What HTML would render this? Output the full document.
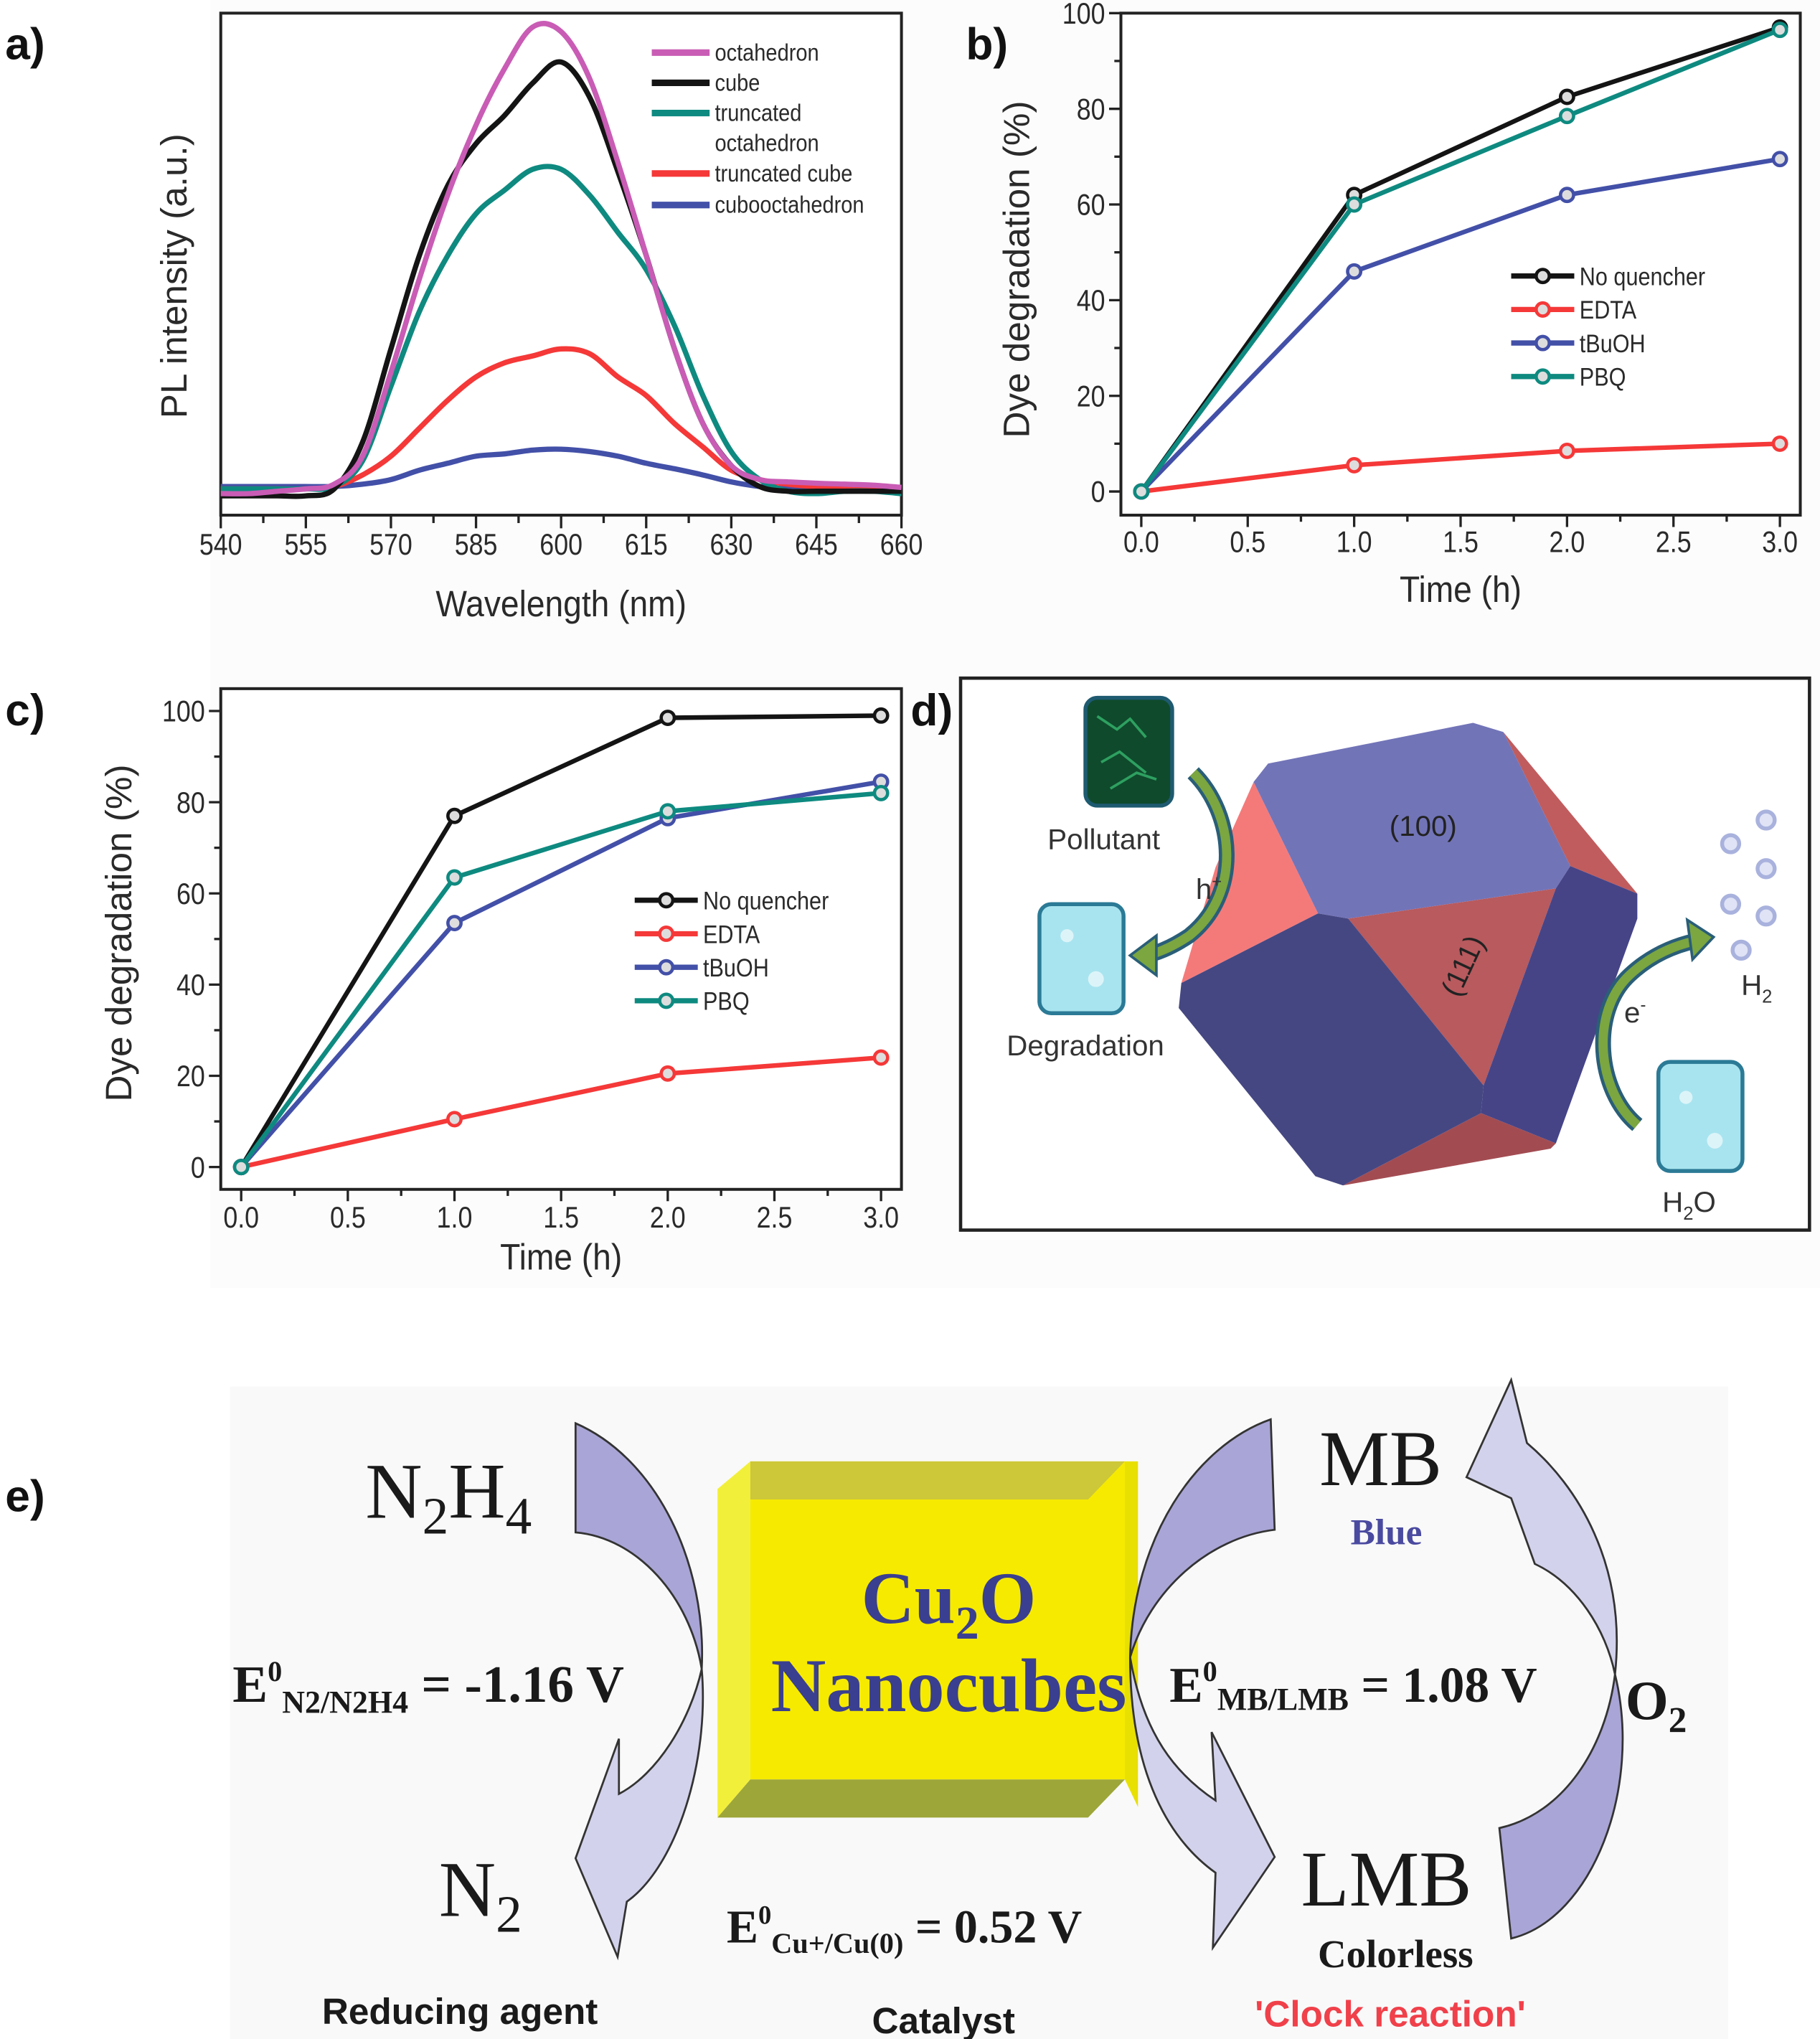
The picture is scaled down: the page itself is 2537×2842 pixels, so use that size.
<!DOCTYPE html>
<html><head><meta charset="utf-8"><style>
html,body{margin:0;padding:0;background:#fff;}
svg{display:block;}
text{font-family:"Liberation Sans Narrow","Liberation Sans",sans-serif;}
.serif{font-family:"Liberation Serif",serif;}
.sans{font-family:"Liberation Sans",sans-serif;}
</style></head><body>
<svg id="fig" width="2537" height="2842" viewBox="0 0 1385 1551.5" preserveAspectRatio="none" xmlns="http://www.w3.org/2000/svg">
<rect x="0" y="0" width="1385" height="1552" fill="#ffffff"/>
<rect x="160" y="0" width="1225" height="980" fill="#fcfcfc"/>
<rect x="175" y="1055" width="1140" height="497" fill="#f9f9f9"/>

<g id="panelA"></g>
<g id="panelB"></g>
<g id="panelC"></g>

<g class="sans" font-weight="bold" font-size="34" fill="#111">
<text x="4" y="45" class="sans">a)</text>
<text x="735" y="45" class="sans">b)</text>
<text x="4" y="552" class="sans">c)</text>
<text x="693" y="552" class="sans">d)</text>
<text x="4" y="1150" class="sans">e)</text>
</g>

<g>
<rect x="731" y="516" width="646" height="420" fill="#ffffff" stroke="#222" stroke-width="2.5"/>
<g>
<polygon points="954,595 1003,695 899,748 925,660" fill="#f47a7a"/>
<polygon points="1144,557 1246,680 1195,659" fill="#c05c5e"/>
<polygon points="954,595 965,581 1121,550 1144,557 1195,659 1184,676 1026,699 1003,695" fill="#7274b8"/>
<polygon points="1026,699 1184,676 1129,826" fill="#b85a5e"/>
<polygon points="1127,847 1184,870 1180,874 1022,902" fill="#a24c52"/>
<polygon points="899,748 1003,695 1026,699 1129,826 1127,847 1022,902 1001,895 897,767" fill="#454782"/>
<polygon points="1184,676 1195,659 1246,680 1246,699 1184,870 1127,847 1129,826" fill="#464487"/>
<text x="1083" y="636" text-anchor="middle" font-size="22" fill="#222" class="sans">(100)</text>
<text x="1120" y="738" text-anchor="middle" font-size="22" fill="#222" class="sans" transform="rotate(-65 1120 738)">(111)</text>
</g>
<rect x="826" y="531" width="66" height="82" rx="9" fill="#0f4a2c" stroke="#1e5a70" stroke-width="3"/>
<path d="M835,545 l15,10 l10,-8 l12,14 M838,580 l14,-8 l20,16 M845,600 l20,-12 l15,5" stroke="#2ea060" stroke-width="2" fill="none"/>
<rect x="791" y="688" width="64" height="83" rx="9" fill="#a8e4ef" stroke="#2b7a96" stroke-width="3"/>
<rect x="1262" y="808" width="64" height="83" rx="9" fill="#a8e4ef" stroke="#2b7a96" stroke-width="3"/>
<g fill="#ffffff" opacity="0.6"><circle cx="812" cy="712" r="5"/><circle cx="834" cy="745" r="6"/><circle cx="1283" cy="835" r="5"/><circle cx="1305" cy="868" r="6"/></g>
<path d="M908,588 C940,620 945,680 905,712 C890,722 878,726 872,727" stroke="#2a5e78" stroke-width="12" fill="none"/>
<path d="M908,588 C940,620 945,680 905,712 C890,722 878,726 872,727" stroke="#7ba640" stroke-width="7" fill="none"/>
<polygon points="860,727 880,712 880,742" fill="#7ba640" stroke="#2a5e78" stroke-width="2"/>
<path d="M1246,856 C1215,830 1210,770 1240,742 C1255,728 1272,720 1290,716" stroke="#2a5e78" stroke-width="12" fill="none"/>
<path d="M1246,856 C1215,830 1210,770 1240,742 C1255,728 1272,720 1290,716" stroke="#7ba640" stroke-width="7" fill="none"/>
<polygon points="1304,713 1284,700 1288,730" fill="#7ba640" stroke="#2a5e78" stroke-width="2"/>
<g fill="#dfe3f5" stroke="#a9b2dd" stroke-width="3">
<circle cx="1344" cy="624" r="6.5"/><circle cx="1317" cy="642" r="6.5"/><circle cx="1344" cy="661" r="6.5"/><circle cx="1317" cy="688" r="6.5"/><circle cx="1344" cy="697" r="6.5"/><circle cx="1325" cy="723" r="6.5"/>
</g>
<g class="sans" font-size="22" fill="#333">
<text x="840" y="646" text-anchor="middle" class="sans">Pollutant</text>
<text x="826" y="803" text-anchor="middle" class="sans">Degradation</text>
<text x="910" y="684" class="sans">h<tspan font-size="13" dy="-9">+</tspan></text>
<text x="1236" y="778" class="sans">e<tspan font-size="13" dy="-9">-</tspan></text>
<text x="1325" y="757" class="sans">H<tspan font-size="14" dy="6">2</tspan></text>
<text x="1265" y="922" class="sans">H<tspan font-size="14" dy="6">2</tspan><tspan dy="-6">O</tspan></text>
</g>
</g>

<g>
<g>
<polygon points="546,1133 571,1112 571,1354 546,1383" fill="#f2ef3a"/>
<rect x="571" y="1112" width="285" height="242" fill="#f6ea00"/>
<polygon points="571,1112 856,1112 828,1141 571,1141" fill="#cdc73a"/>
<polygon points="571,1354 856,1354 828,1383 546,1383" fill="#9da638"/>
<polygon points="856,1112 866,1112 866,1375 856,1354" fill="#e8e000"/>
</g>
<g stroke="#333" stroke-width="1.5">
<path d="M438,1083 C500,1110 538,1190 534,1270 C525,1215 485,1170 438,1166 Z" fill="#a9a5d6"/>
<path d="M534,1270 C540,1340 515,1420 477,1447 L470,1489 L438,1414 L471,1323 L471,1365 C500,1350 525,1310 534,1270 Z" fill="#d3d2ec"/>
<path d="M967,1080 L970,1164 C920,1170 875,1210 860,1261 C862,1170 910,1100 967,1080 Z" fill="#a9a5d6"/>
<path d="M860,1261 C860,1350 890,1400 925,1425 L923,1482 L970,1413 L922,1318 L925,1370 C895,1350 870,1320 860,1261 Z" fill="#d3d2ec"/>
<path d="M1229,1274 C1238,1190 1200,1130 1162,1098 L1150,1050 L1116,1124 L1150,1140 L1168,1190 C1200,1205 1222,1240 1229,1274 Z" fill="#d3d2ec"/>
<path d="M1229,1274 C1250,1360 1212,1460 1150,1475 L1141,1391 C1190,1380 1222,1330 1229,1274 Z" fill="#a9a5d6"/>
</g>
<g class="serif" fill="#1a1a1a">
<text x="278" y="1155" font-size="60" class="serif">N<tspan font-size="40" dy="12">2</tspan><tspan dy="-12">H</tspan><tspan font-size="40" dy="12">4</tspan></text>
<text x="334" y="1458" font-size="60" class="serif">N<tspan font-size="40" dy="12">2</tspan></text>
<text x="177" y="1295" font-size="40" font-weight="bold" class="serif">E<tspan font-size="22" dy="-16">0</tspan><tspan font-size="24" dy="24">N2/N2H4</tspan><tspan dy="-8"> = -1.16 V</tspan></text>
<text x="553" y="1478" font-size="36" font-weight="bold" class="serif">E<tspan font-size="20" dy="-14">0</tspan><tspan font-size="22" dy="22">Cu+/Cu(0)</tspan><tspan dy="-8"> = 0.52 V</tspan></text>
<text x="1004" y="1130" font-size="60" class="serif">MB</text>
<text x="1055" y="1175" font-size="28" font-weight="bold" fill="#4a4aa0" text-anchor="middle" class="serif">Blue</text>
<text x="890" y="1295" font-size="38" font-weight="bold" class="serif">E<tspan font-size="22" dy="-16">0</tspan><tspan font-size="24" dy="22">MB/LMB</tspan><tspan dy="-6"> = 1.08 V</tspan></text>
<text x="1237" y="1308" font-size="42" font-weight="bold" class="serif">O<tspan font-size="28" dy="10">2</tspan></text>
<text x="990" y="1450" font-size="60" class="serif">LMB</text>
<text x="1062" y="1497" font-size="30" font-weight="bold" text-anchor="middle" class="serif">Colorless</text>
<text x="722" y="1235" font-size="56" font-weight="bold" fill="#3a3f8f" text-anchor="middle" class="serif">Cu<tspan font-size="36" dy="12">2</tspan><tspan dy="-12">O</tspan></text>
<text x="722" y="1302" font-size="58" font-weight="bold" fill="#3a3f8f" text-anchor="middle" class="serif">Nanocubes</text>
</g>
<g class="sans" font-weight="bold" font-size="28" fill="#1a1a1a">
<text x="350" y="1540" text-anchor="middle" class="sans">Reducing agent</text>
<text x="718" y="1547" text-anchor="middle" class="sans">Catalyst</text>
<text x="1058" y="1542" text-anchor="middle" fill="#f0404a" class="sans">'Clock reaction'</text>
</g>
</g>
</svg>
<script>
const NS='http://www.w3.org/2000/svg';
// ---- Panel a data ----
const wavelengths=[540,545,550,555,560,565,570,575,580,585,590,595,600,605,610,615,620,625,630,635,640,645,650,655,660];
const octahedron=[-1,-1,-0.5,0,1,7,25,45,63,78,90,99,98,88,70,50,30,14,5,2,1.5,1.2,1,0.8,0.3];
const cube=[-1.5,-1.5,-1.5,-1.5,0,10,30,50,65,74,80,87,91.5,84,68,50,30,14,5,0.5,-0.5,-0.5,-0.5,-0.5,-0.5];
const truncOct=[0,0,0,0,0.5,6,22,38,50,59,64,68.5,68.5,63,55,47,35,20,8,2,-0.5,-1,-0.5,-0.5,-1];
const truncCube=[0,0,0,0,0.5,3,7,13,19,24,27,28.5,30,29,24,20,14,9,4,2,1,0.5,0.3,0,0];
const cubooct=[0.5,0.5,0.5,0.5,0.5,1,2,4,5.5,7,7.5,8.3,8.5,8,7,5.5,4.3,3,1.5,0.5,0,0,0,0,0];
const aTicks=['540','555','570','585','600','615','630','645','660'];
const aNames=['octahedron','cube','truncated','truncated cube','cubooctahedron'];
// ---- Panel b data ----
const times=[0,1,2,3];
const bNoQ=[0,62,82.5,97];
const bEDTA=[0,5.5,8.5,10];
const bTBuOH=[0,46,62,69.5];
const bPBQ=[0,60,78.5,96.5];
// ---- Panel c data ----
const cNoQ=[0,77,98.5,99];
const cEDTA=[0,10.5,20.5,24];
const cTBuOH=[0,53.5,76.5,84.5];
const cPBQ=[0,63.5,78,82];
const timeTicks=['0.0','0.5','1.0','1.5','2.0','2.5','3.0'];
const pctTicks=['0','20','40','60','80','100'];
const legendNames=['No quencher','EDTA','tBuOH','PBQ'];

function el(tag,attrs,parent){const e=document.createElementNS(NS,tag);for(const k in attrs)e.setAttribute(k,attrs[k]);parent.appendChild(e);return e;}
const C={black:'#141414',red:'#f53838',blue:'#4350a8',teal:'#0e8a80',mag:'#c95cb5'};

function frame(g,L,T,R,B){
  const r=el('rect',{x:L,y:T,width:R-L,height:B-T,fill:'#fff',stroke:'#222','stroke-width':2.2},g);
  
  
}
function text(g,x,y,s,size,anchor,name,sx){
  const t=el('text',{x:x,y:y,'font-size':size,'text-anchor':anchor||'middle',fill:'#2a2a2a'},g);
  t.textContent=s;
  if(sx){t.setAttribute('transform','translate('+x+' 0) scale('+sx+' 1) translate('+(-x)+' 0)');}
  
  
  return t;
}
function smoothPath(pts){
  let d='M'+pts[0][0].toFixed(1)+','+pts[0][1].toFixed(1);
  for(let i=0;i<pts.length-1;i++){
    const p0=pts[i-1]||pts[i],p1=pts[i],p2=pts[i+1],p3=pts[i+2]||p2;
    const c1=[p1[0]+(p2[0]-p0[0])/6,p1[1]+(p2[1]-p0[1])/6];
    const c2=[p2[0]-(p3[0]-p1[0])/6,p2[1]-(p3[1]-p1[1])/6];
    d+=' C'+c1[0].toFixed(1)+','+c1[1].toFixed(1)+' '+c2[0].toFixed(1)+','+c2[1].toFixed(1)+' '+p2[0].toFixed(1)+','+p2[1].toFixed(1);
  }
  return d;
}

// Panel A
(function(){
  const g=document.getElementById('panelA');
  const L=168,R=686,T=10,B=392;
  frame(g,L,T,R,B);
  const xs=v=>L+(v-540)/(660-540)*(R-L);
  const ys=v=>372-v*3.55;
  for(let v=540;v<=660;v+=7.5){
    const major=(v-540)%15===0;
    el('line',{x1:xs(v),y1:B,x2:xs(v),y2:B+(major?10:6),stroke:'#222','stroke-width':1.8},g);
  }
  aTicks.forEach(s=>text(g,xs(+s),422,s,23,'middle','x-tick-label',0.85));
  text(g,427,469,'Wavelength (nm)',28,'middle','x-axis-title',0.9);
  const yl=text(g,142,210,'PL intensity (a.u.)',28,'middle','y-axis-title');
  yl.setAttribute('transform','rotate(-90 142 210)');
  const series=[[cubooct,C.blue,'series-cubooctahedron'],[truncCube,C.red,'series-truncated-cube'],[truncOct,C.teal,'series-truncated-octahedron'],[cube,C.black,'series-cube'],[octahedron,C.mag,'series-octahedron']];
  series.forEach(s=>{
    const pts=s[0].map((v,i)=>[xs(wavelengths[i]),ys(v)]);
    const p=el('path',{d:smoothPath(pts),fill:'none',stroke:s[1],'stroke-width':4,'stroke-linejoin':'round'},g);
    
    
  });
  const lc=[C.mag,C.black,C.teal,C.red,C.blue];
  const ly=[40,63,86,132,156];
  aNames.forEach((n,i)=>{
    const ln=el('line',{x1:496,y1:ly[i],x2:540,y2:ly[i],stroke:lc[i],'stroke-width':5},g);
    
    
    text(g,544,ly[i]+6,n,18,'start','legend-entry',0.88);
  });
  text(g,544,115,'octahedron',18,'start','legend-entry',0.88);
})();

function degPanel(gid,L,T,R,B,y0,y100,tickY,titleY,ylx,yly,legX,legY,data){
  const g=document.getElementById(gid);
  frame(g,L,T,R,B);
  const x0=L+(R-L)*0.03, x3=R-(R-L)*0.03;
  const xs=v=>x0+v/3*(x3-x0);
  const ys=v=>y0+(y100-y0)*v/100;
  for(let v=0;v<=3.001;v+=0.25){
    const major=Math.abs(v*2-Math.round(v*2))<1e-6;
    el('line',{x1:xs(v),y1:B,x2:xs(v),y2:B+(major?9:5),stroke:'#222','stroke-width':1.8},g);
  }
  for(let v=0;v<=100;v+=10){
    const major=v%20===0;
    el('line',{x1:L,y1:ys(v),x2:L-(major?9:5),y2:ys(v),stroke:'#222','stroke-width':1.8},g);
  }
  timeTicks.forEach(s=>text(g,xs(+s),tickY,s,23,'middle','x-tick-label',0.85));
  pctTicks.forEach(s=>text(g,L-12,ys(+s)+8,s,23,'end','y-tick-label',0.85));
  text(g,(L+R)/2,titleY,'Time (h)',28,'middle','x-axis-title',0.9);
  const yl=text(g,ylx,yly,'Dye degradation (%)',28,'middle','y-axis-title');
  yl.setAttribute('transform','rotate(-90 '+ylx+' '+yly+')');
  const cols=[C.black,C.red,C.blue,C.teal];
  const names=['series-no-quencher','series-edta','series-tbuoh','series-pbq'];
  data.forEach((arr,k)=>{
    const d=arr.map((v,i)=>(i?'L':'M')+xs(times[i]).toFixed(1)+','+ys(v).toFixed(1)).join(' ');
    const p=el('path',{d:d,fill:'none',stroke:cols[k],'stroke-width':3.5,'stroke-linejoin':'round'},g);
    
    
    arr.forEach((v,i)=>{
      const c=el('circle',{cx:xs(times[i]),cy:ys(v),r:5,fill:'#ddd',stroke:cols[k],'stroke-width':2.5},g);
      
      
    });
  });
  legendNames.forEach((n,i)=>{
    const y=legY+i*25.5;
    const ln=el('line',{x1:legX,y1:y,x2:legX+48,y2:y,stroke:cols[i],'stroke-width':4},g);
    
    
    el('circle',{cx:legX+24,cy:y,r:5,fill:'#ddd',stroke:cols[i],'stroke-width':2.5},g);
    text(g,legX+52,y+7,n,19,'start','legend-entry',0.88);
  });
}
degPanel('panelB',853,10,1370,392,374,10,420,458,783,205,1150,210,[bNoQ,bEDTA,bTBuOH,bPBQ]);
degPanel('panelC',168,524,686,905,888,541,934,966,100,710,483,685,[cNoQ,cEDTA,cTBuOH,cPBQ]);
</script>
</body></html>
